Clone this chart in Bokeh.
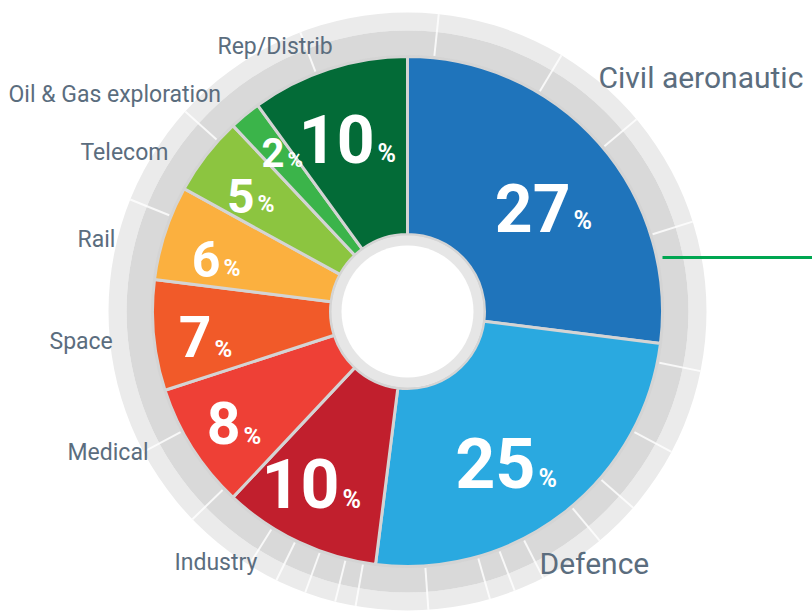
import numpy as np
from bokeh.plotting import figure
from bokeh.models import Range1d, ColumnDataSource
from bokeh.core.properties import value
from bokeh.embed import file_html
from bokeh.resources import INLINE

# ---------------- data ----------------
sectors = ["Civil aeronautics", "Defence", "Industry", "Medical", "Space",
           "Rail", "Telecom", "Oil & Gas exploration", "Rep/Distrib"]
shares = [27, 25, 10, 8, 7, 6, 5, 2, 10]
colors = ["#1f74bb", "#2aa9e0", "#c11f2d", "#ee4036", "#f15a29",
          "#fbb03f", "#8cc540", "#3bb44a", "#036b37"]
label_texts = ["Civil aeronautic", "Defence", "Industry", "Medical", "Space",
               "Rail", "Telecom", "Oil & Gas exploration", "Rep/Distrib"]

# ---------------- layout (screen pixels) ----------------
W, H = 812, 614
def Y(sy):
    return H - sy

CX, CY = 407, Y(311)
R_HOLE, R_IN, R_OUT, R_RING1, R_RING2 = 66, 77, 255, 281, 299

# sector name label anchors (left x, text centre y) and font sizes
name_x = [598, 539, 174, 67, 49, 77, 80, 8, 217]
name_y = [77, 563, 562, 452, 341, 239, 152, 94, 46]
name_size = ["30px", "30px", "23px", "23px", "23px", "23px", "23px", "23px", "23px"]

# percentage label anchors (number right edge, digit centre y, % centre y)
pct_x = [570, 535, 339, 240, 211, 220, 254, 284, 374]
num_y = [207, 462, 483, 422, 336, 258, 195, 152, 138]
sym_y = [220, 478, 499, 435, 348, 268, 204, 159, 153]
num_size = ["66px", "70px", "68px", "59px", "57px", "50px", "48px", "40px", "66px"]
sym_size = ["25px", "25px", "25px", "24px", "24px", "23px", "23px", "21px", "25px"]

# decorative radial ticks in the outer grey rings (degrees)
tick_deg = [84, 59, 17.5, -11.5, -28, -41, -50, -63, -69, -74, -86,
            -100, -104, -110, -116, -122, 208, 224, 158, 138, 111, 40]

# ---------------- figure ----------------
p = figure(width=W, height=H, x_range=Range1d(0, W), y_range=Range1d(0, H),
           output_backend="svg", toolbar_location=None, min_border=0,
           x_axis_location=None, y_axis_location=None)
p.grid.visible = False
p.outline_line_color = None
p.background_fill_color = "white"
p.border_fill_color = "white"

# outer grey rings
p.annulus(x=CX, y=CY, inner_radius=R_RING1, outer_radius=R_RING2,
          fill_color="#ebebeb", line_color=None)
p.annulus(x=CX, y=CY, inner_radius=R_OUT - 2, outer_radius=R_RING1,
          fill_color="#d9d9d9", line_color=None)
ta = np.radians(tick_deg)
p.segment(x0=CX + (R_OUT + 2) * np.cos(ta), y0=CY + (R_OUT + 2) * np.sin(ta),
          x1=CX + R_RING2 * np.cos(ta), y1=CY + R_RING2 * np.sin(ta),
          line_color="white", line_width=2, line_alpha=0.8)

# sectors (clockwise from 12 o'clock)
vals = np.array(shares, dtype=float)
cum = np.concatenate([[0], np.cumsum(vals)])
tot = cum[-1]
start = np.radians(90 - cum[1:] * 360 / tot)
end = np.radians(90 - cum[:-1] * 360 / tot)
src = ColumnDataSource(dict(sector=sectors, share=shares, color=colors,
                            start=start, end=end))
p.annular_wedge(x=CX, y=CY, inner_radius=R_IN, outer_radius=R_OUT,
                start_angle="start", end_angle="end", direction="anticlock",
                fill_color="color", line_color="#d4d4d4", line_width=3, source=src)

# hole
p.circle(x=CX, y=CY, radius=R_IN - 1, fill_color="#e6e6e6", line_color=None)
p.circle(x=CX, y=CY, radius=R_HOLE, fill_color="white", line_color=None)

# leader line to "Civil aeronautic"
p.segment(x0=[662], y0=[Y(257)], x1=[W], y1=[Y(257)],
          line_color="#00a651", line_width=3)

# sector names
p.text(x=name_x, y=[Y(v) for v in name_y], text=label_texts,
       text_font=value("Roboto"), text_font_size=name_size,
       text_color="#5b6d7e", text_align="left", text_baseline="alphabetic")

# percentages
p.text(x=pct_x, y=[Y(v) for v in num_y], text=[str(s) for s in shares],
       text_font=value("Roboto"), text_font_style="bold", text_font_size=num_size,
       text_color="white", text_align="right", text_baseline="alphabetic")
p.text(x=[x + 3 for x in pct_x], y=[Y(v) for v in sym_y], text=["%"] * len(shares),
       text_font=value("Roboto"), text_font_style="bold", text_font_size=sym_size,
       text_color="white", text_align="left", text_baseline="alphabetic")

open("out.html", "w").write(file_html(p, INLINE))
